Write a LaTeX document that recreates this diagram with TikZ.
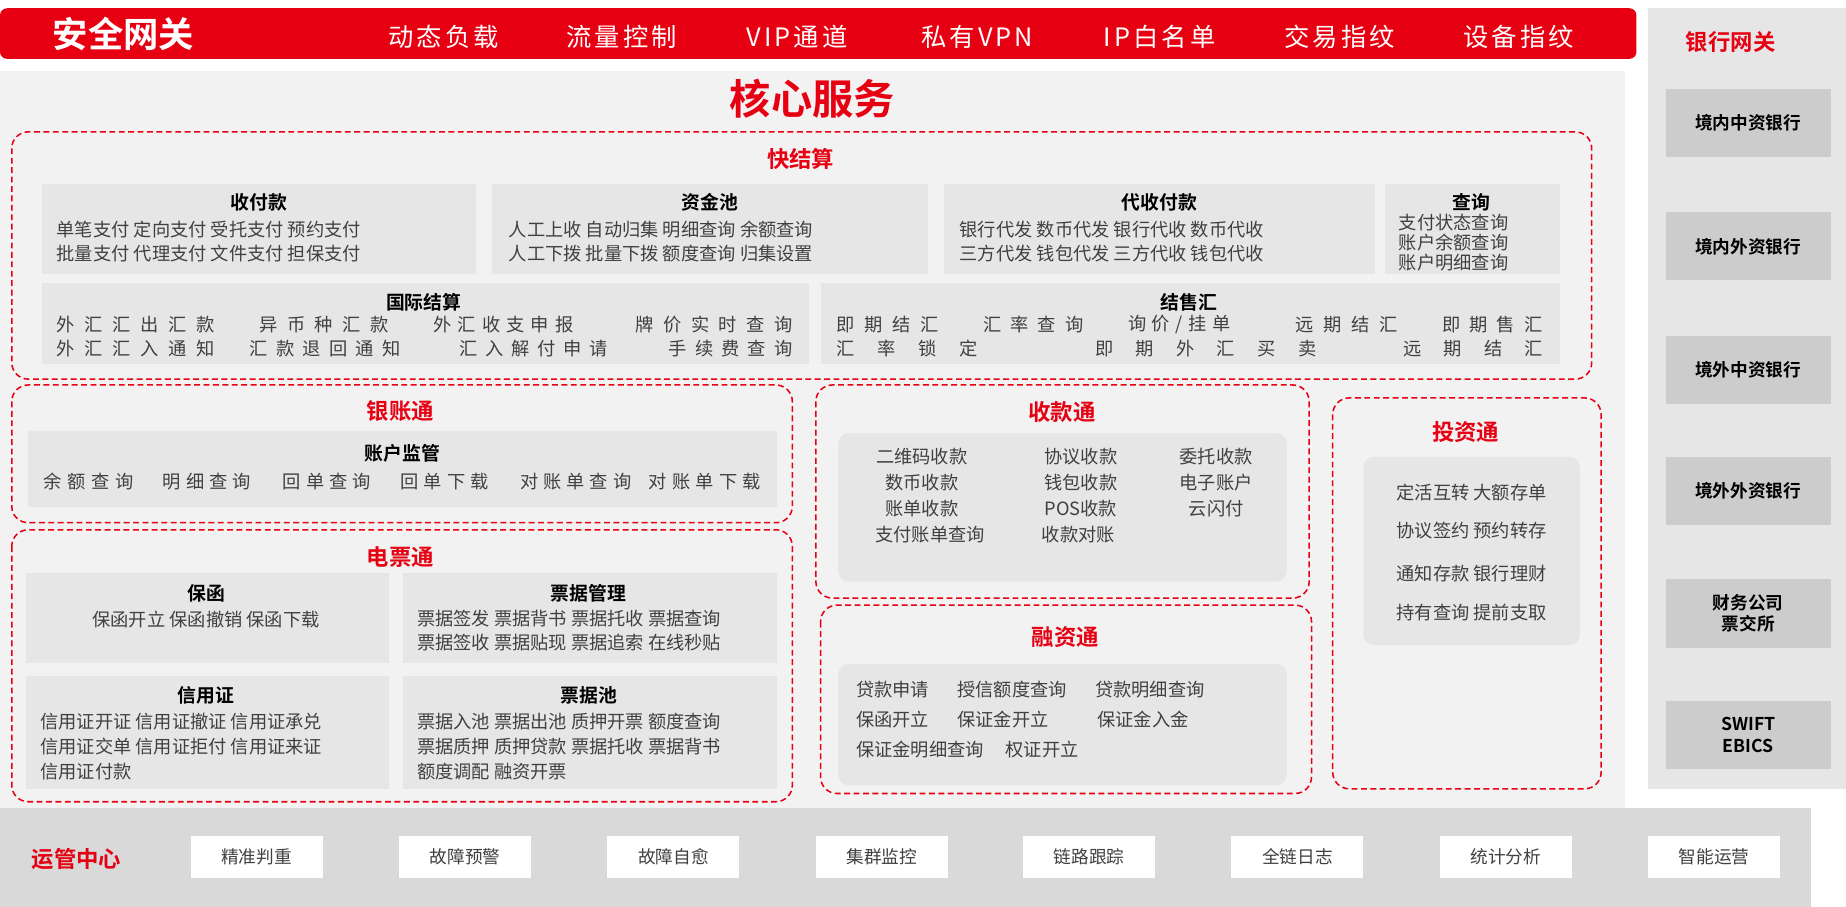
\documentclass[tikz,border=0pt]{standalone}
\usepackage{fontspec}
\setmainfont{Noto Sans CJK SC}
\newfontfamily\bfcjk{Noto Sans CJK SC Bold}
\definecolor{rd}{HTML}{E60012}
\definecolor{tx}{HTML}{404040}
\definecolor{bx}{HTML}{E6E6E6}
\makeatletter
\newcommand\spr[1]{\@tfor\sp@t:=#1\do{\sp@t\hfill}\unskip}
\makeatother
\newcommand\sprbox[3]{\makebox[\dimexpr#2pt-#1pt\relax][s]{\expandafter\spr\expandafter{#3}}}
\begin{document}
\begin{tikzpicture}[x=1pt,y=-1pt,
  it/.style={font=\fontsize{15.5}{16}\selectfont,text=tx,inner sep=0pt,anchor=west},
  hd/.style={font=\bfcjk\fontsize{16}{16}\selectfont,inner sep=0pt},
  rt/.style={font=\bfcjk\fontsize{19}{20}\selectfont,text=rd,inner sep=0pt},
  dbox/.style={draw=rd,dashed,line width=1.3pt,rounded corners=14pt,dash pattern=on 5pt off 3pt},
  gbox/.style={fill=bx},
  ibox/.style={fill=bx,rounded corners=9pt},
  bank/.style={fill=black!20,font=\bfcjk\fontsize{15}{18}\selectfont,align=center},
  wbox/.style={fill=white,font=\fontsize{15}{15}\selectfont,text=tx,minimum width=112pt,minimum height=35pt,inner sep=0pt}]
\useasboundingbox (0,0) rectangle (1568,770);
\fill[white] (0,0) rectangle (1568,770);
% top bar
\fill[rd,rounded corners=6pt] (0,7) rectangle (1390,50);
\node[font=\bfcjk\fontsize{30}{30}\selectfont,text=white] (t0) at (105,29) {安全网关};
\foreach \x/\t [count=\i] in {377/动态负载,528/流量控制,677/VIP通道,830/私有VPN,985/IP白名单,1138/交易指纹,1290/设备指纹}
  \node[font=\fontsize{21.5}{22}\selectfont,text=white] (m\i) at (\x,31) {\addfontfeature{LetterSpace=12}\t};
% right panel
\fill[bx] (1400,7) rectangle (1568,670);
\node[rt,font=\bfcjk\fontsize{19}{20}\selectfont] (bg) at (1470,36) {银行网关};
\foreach \a/\t [count=\i] in {75/境内中资银行,180/境内外资银行,285/境外中资银行,388/境外外资银行,492/{财务公司\\票交所},595/{SWIFT\\EBICS}}
  \node[bank,minimum width=140pt,minimum height=58pt,anchor=north] (bk\i) at (1485,\a) {\t};
% core
\fill[black!5] (0,60) rectangle (1380,686);
\node[font=\bfcjk\fontsize{35}{35}\selectfont,text=rd] (core) at (690,84) {核心服务};
% 快结算
\draw[dbox] (10,112) rectangle (1352,322);
\node[rt] (kjs) at (680,135) {快结算};
\fill[gbox] (36,156) rectangle (404,233);
\fill[gbox] (418,156) rectangle (788,233);
\fill[gbox] (802,156) rectangle (1168,233);
\fill[gbox] (1176,156) rectangle (1325,233);
\fill[gbox] (36,240) rectangle (687,309);
\fill[gbox] (697,240) rectangle (1325,309);
\node[hd] (h1) at (220,172) {收付款};
\node[it] at (48,195) {单笔支付\ 定向支付\ 受托支付\ 预约支付};
\node[it] at (48,215) {批量支付\ 代理支付\ 文件支付\ 担保支付};
\node[hd] (h2) at (603,172) {资金池};
\node[it] at (432,195) {人工上收\ 自动归集\ 明细查询\ 余额查询};
\node[it] at (432,215) {人工下拨\ 批量下拨\ 额度查询\ 归集设置};
\node[hd] (h3) at (985,172) {代收付款};
\node[it] at (815,195) {银行代发\ 数币代发\ 银行代收\ 数币代收};
\node[it] at (815,215) {三方代发\ 钱包代发\ 三方代收\ 钱包代收};
\node[hd] (h4) at (1250,172) {查询};
\node[it] at (1188,189) {支付状态查询};
\node[it] at (1188,206) {账户余额查询};
\node[it] at (1188,223) {账户明细查询};
\node[hd] (h5) at (360,257) {国际结算};
\foreach \a/\b/\y/\t in {48/182/276/外汇汇出汇款,220/330/276/异币种汇款,368/487/276/外汇收支申报,540/673/276/牌价实时查询,
  48/182/296/外汇汇入通知,212/340/296/汇款退回通知,390/516/296/汇入解付申请,568/673/296/手续费查询,
  710/797/276/即期结汇,835/920/276/汇率查询,958/1045/276/{询价/挂单},1100/1187/276/远期结汇,1225/1310/276/即期售汇,
  710/830/296/汇率锁定,930/1118/296/即期外汇买卖,1192/1310/296/远期结汇}
  \node[it] at (\a,\y) {\sprbox{\a}{\b}{\t}};
\node[hd] (h6) at (1010,257) {结售汇};
% 银账通
\draw[dbox] (10,327) rectangle (673,444);
\node[rt] (yzt) at (340,349) {银账通};
\fill[gbox] (24,366) rectangle (660,431);
\node[hd] (h7) at (342,385) {账户监管};
\foreach \a/\b/\t in {37/113/余额查询,138/213/明细查询,240/315/回单查询,340/415/回单下载,442/536/对账单查询,551/646/对账单下载}
  \node[it] at (\a,409) {\sprbox{\a}{\b}{\t}};
% 电票通
\draw[dbox] (10,450) rectangle (673,681);
\node[rt] (dpt) at (340,473) {电票通};
\fill[gbox] (22,487) rectangle (330,563);
\fill[gbox] (342,487) rectangle (660,563);
\fill[gbox] (22,574) rectangle (330,670);
\fill[gbox] (342,574) rectangle (660,670);
\node[hd] (h8) at (175,504) {保函};
\node[it,anchor=center] at (175,526) {保函开立\ 保函撤销\ 保函下载};
\node[hd] (h9) at (500,504) {票据管理};
\node[it] at (354,525) {票据签发\ 票据背书\ 票据托收\ 票据查询};
\node[it] at (354,546) {票据签收\ 票据贴现\ 票据追索\ 在线秒贴};
\node[hd] (h10) at (175,591) {信用证};
\node[it] at (34,613) {信用证开证\ 信用证撤证\ 信用证承兑};
\node[it] at (34,634) {信用证交单\ 信用证拒付\ 信用证来证};
\node[it] at (34,655) {信用证付款};
\node[hd] (h11) at (500,591) {票据池};
\node[it] at (354,613) {票据入池\ 票据出池\ 质押开票\ 额度查询};
\node[it] at (354,634) {票据质押\ 质押贷款\ 票据托收\ 票据背书};
\node[it] at (354,655) {额度调配\ 融资开票};
% 收款通
\draw[dbox] (693,327) rectangle (1112,508);
\node[rt] (skt) at (902,350) {收款通};
\fill[ibox] (712,368) rectangle (1093,494);
\foreach \x/\y/\t in {783/388/二维码收款,918/388/协议收款,1033/388/委托收款,
  783/410/数币收款,918/410/钱包收款,1033/410/电子账户,
  783/432/账单收款,918/432/POS收款,1033/432/云闪付,
  790/454/支付账单查询,916/454/收款对账}
  \node[it,anchor=center] at (\x,\y) {\t};
% 融资通
\draw[dbox] (697,514) rectangle (1114,674);
\node[rt] (rzt) at (905,541) {融资通};
\fill[ibox] (712,564) rectangle (1093,667);
\foreach \x/\y/\t in {727/586/贷款申请,813/586/授信额度查询,930/586/贷款明细查询,
  727/611/保函开立,813/611/保证金开立,932/611/保证金入金,
  727/637/保证金明细查询,854/637/权证开立}
  \node[it] at (\x,\y) {\t};
% 投资通
\draw[dbox] (1132,338) rectangle (1360,670);
\node[rt] (tzt) at (1245,367) {投资通};
\fill[ibox] (1158,388) rectangle (1342,548);
\foreach \y/\t in {418/定活互转\ 大额存单,451/协议签约\ 预约转存,487/通知存款\ 银行理财,520/持有查询\ 提前支取}
  \node[it,anchor=center] at (1250,\y) {\t};
% bottom
\fill[black!15] (0,686) rectangle (1538,770);
\node[rt] (yg) at (65,730) {运管中心};
\foreach \x/\t [count=\i] in {218/精准判重,395/故障预警,572/故障自愈,749/集群监控,925/链路跟踪,1102/全链日志,1279/统计分析,1456/智能运营}
  \node[wbox] (w\i) at (\x,728) {\t};
\end{tikzpicture}
\end{document}
